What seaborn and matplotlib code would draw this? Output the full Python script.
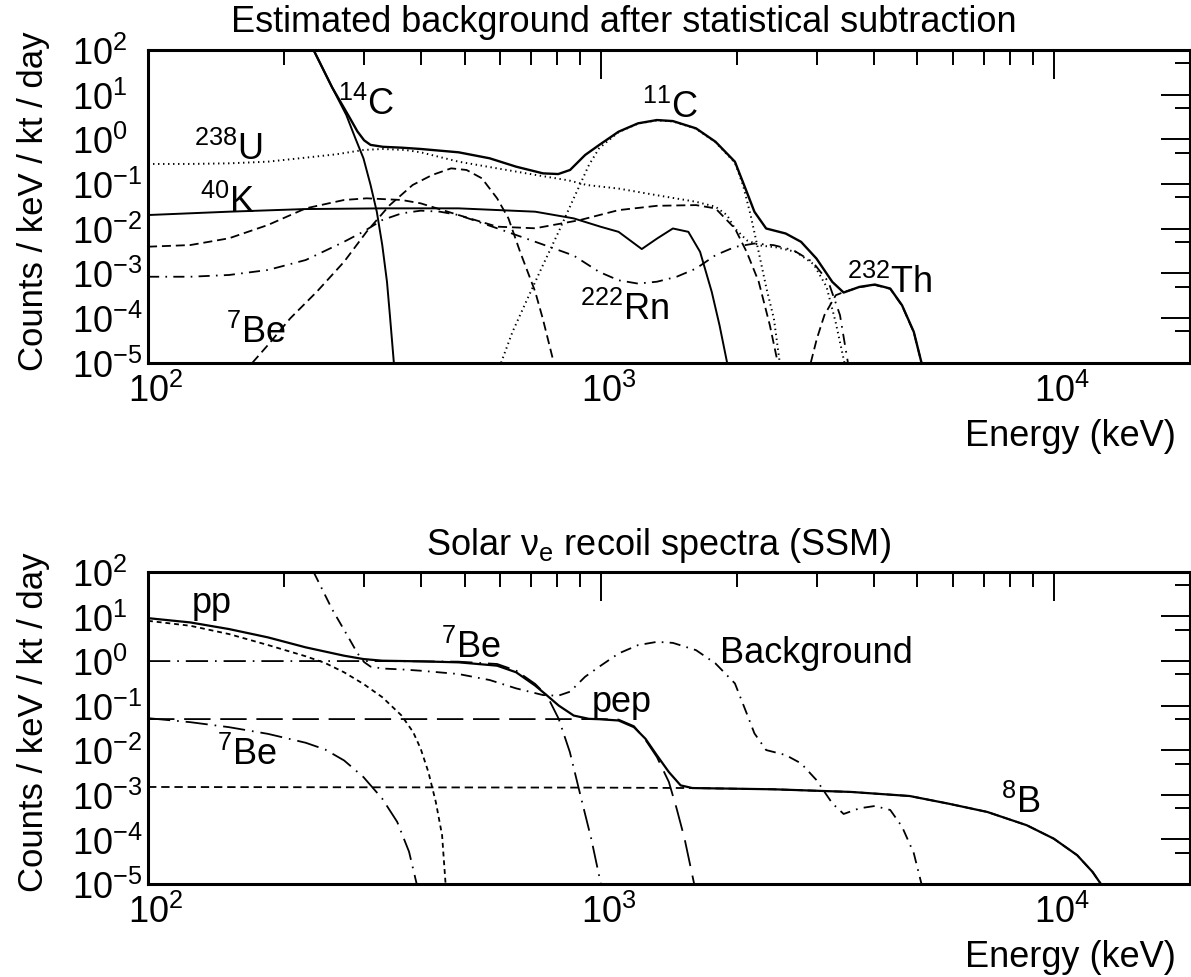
import matplotlib
matplotlib.use("Agg")
import matplotlib.pyplot as plt
import matplotlib.transforms as mtransforms
import seaborn as sns
from matplotlib.ticker import LogLocator, NullFormatter

# ---------------- data (energy in keV, rate in counts / keV / kt / day) ----------------
# Estimated background components
bkg_total_e = [232, 255, 279, 290, 300, 310, 330, 363, 400, 485, 568, 650, 745, 805, 855, 923, 991,
               1094, 1208, 1330, 1442, 1622, 1791, 1977, 2099, 2183, 2317, 2559, 2767, 2992, 3243,
               3436, 3724, 4027, 4355, 4624, 4909, 5105]
bkg_total_v = [100, 14.5, 3.0, 1.5, 0.95, 0.75, 0.68, 0.65, 0.608, 0.512, 0.376, 0.244, 0.173, 0.167,
               0.206, 0.446, 0.745, 1.48, 2.28, 2.7, 2.56, 1.76, 0.883, 0.315, 0.067, 0.0239, 0.0101,
               0.0078, 0.00508, 0.00215, 6.46e-4, 3.72e-4, 4.98e-4, 5.62e-4, 4.57e-4, 1.93e-4, 4.9e-5, 1.0e-5]

c14_e = [232, 255, 274, 287, 299, 310, 320, 329, 337, 342, 349]
c14_v = [100, 14.5, 3.51, 1.05, 0.376, 0.0951, 0.024, 0.00431, 6.5e-4, 1.17e-4, 1.0e-5]

u238_e = [100, 124, 151, 184, 223, 260, 299, 329, 370, 400, 485, 590, 716, 850, 930, 1094, 1330,
          1622, 1791, 1900, 1977, 2100, 2250, 2450, 2700, 2950, 3150, 3300, 3450]
u238_v = [0.281, 0.281, 0.29, 0.316, 0.389, 0.461, 0.577, 0.608, 0.577, 0.512, 0.316, 0.224, 0.16,
          0.12, 0.095, 0.079, 0.056, 0.040, 0.031, 0.02, 0.0101, 0.0055, 0.0042, 0.0038, 0.0030,
          0.0016, 5e-4, 8e-5, 1e-5]

k40_e = [100, 151, 223, 329, 485, 716, 871, 1000, 1094, 1231, 1330, 1442, 1560, 1656, 1757, 1828, 1900]
k40_v = [0.0202, 0.024, 0.0275, 0.0285, 0.0285, 0.024, 0.017, 0.011, 0.0085, 0.0035, 0.006, 0.0101,
         0.0085, 0.00303, 3.86e-4, 6.9e-5, 1e-5]

th232_e = [100, 124, 151, 184, 223, 271, 304, 363, 400, 485, 590, 716, 897, 1094, 1330, 1622, 1791,
           1977, 2099, 2231, 2361, 2458]
th232_v = [3.95e-3, 4.3e-3, 6.1e-3, 0.0121, 0.0285, 0.0439, 0.0478, 0.0439, 0.0369, 0.0202, 0.0111,
           0.0102, 0.0155, 0.026, 0.0325, 0.0337, 0.0284, 0.0101, 3.0e-3, 6.5e-4, 6.9e-5, 1.0e-5]

tl208_e = [2907, 3000, 3116, 3301, 3436, 3724, 4027, 4355, 4624, 4909, 5105]
tl208_v = [1e-5, 3.5e-5, 1.16e-4, 3.24e-4, 3.8e-4, 4.9e-4, 5.5e-4, 4.5e-4, 1.9e-4, 4.8e-5, 1e-5]

be7_bkg_e = [170, 184, 206, 236, 271, 304, 342, 384, 424, 467, 505, 546, 590, 625, 663, 716, 744, 787]
be7_bkg_v = [1e-5, 2.49e-5, 9.8e-5, 3.9e-4, 1.82e-3, 8.6e-3, 0.0339, 0.095, 0.159, 0.224, 0.206,
             0.134, 0.0478, 0.017, 3.05e-3, 3.9e-4, 9.8e-5, 1e-5]

c11_e = [602, 638, 689, 745, 807, 871, 941, 991, 1094, 1208, 1330, 1442, 1622, 1791, 1977, 2060,
         2141, 2231, 2321, 2410, 2483]
c11_v = [1e-5, 4.9e-5, 2.75e-4, 1.54e-3, 8.6e-3, 0.0478, 0.266, 0.63, 1.45, 2.25, 2.66, 2.52, 1.73,
         0.86, 0.30, 0.0944, 0.0201, 3.0e-3, 4.57e-4, 9.7e-5, 1e-5]

rn222_e = [100, 124, 151, 184, 223, 271, 299, 329, 363, 400, 441, 485, 590, 716, 871, 991, 1094, 1208,
           1330, 1470, 1622, 1791, 1977, 2183, 2410, 2660, 2934, 3179, 3373, 3512]
rn222_v = [8.4e-4, 8.4e-4, 9.2e-4, 1.19e-3, 1.99e-3, 5.1e-3, 8.6e-3, 0.0156, 0.022, 0.0253, 0.024,
           0.0202, 0.0102, 5.1e-3, 2.5e-3, 1.08e-3, 7.0e-4, 5.9e-4, 6.5e-4, 8.4e-4, 1.28e-3, 2.55e-3,
           3.9e-3, 4.66e-3, 4.27e-3, 3.3e-3, 1.81e-3, 6.5e-4, 1.16e-4, 1e-5]

# Solar neutrino electron-recoil spectra
solar_total_e = [100, 124, 151, 184, 223, 271, 299, 329, 400, 485, 590, 650, 716, 761, 807, 871, 941,
                 991, 1094, 1183, 1255, 1330, 1413, 1500, 1592, 2410, 3573, 4808, 5873, 7132, 8717,
                 10000, 11264, 12180, 12710]
solar_total_v = [9.18, 7.36, 5.22, 3.40, 2.03, 1.32, 1.11, 1.02, 0.986, 0.937, 0.789, 0.56, 0.282,
                 0.168, 0.1005, 0.060, 0.0506, 0.0497, 0.0465, 0.033, 0.018, 7.66e-3, 3.24e-3, 1.63e-3,
                 1.42e-3, 1.33e-3, 1.16e-3, 9.4e-4, 6.3e-4, 4.13e-4, 2.08e-4, 1.04e-4, 4.43e-5,
                 1.87e-5, 1e-5]

pp_e = [100, 124, 151, 184, 223, 246, 271, 299, 329, 363, 385, 400, 416, 432, 446, 454]
pp_v = [8.0, 6.19, 4.03, 2.29, 1.28, 0.906, 0.56, 0.307, 0.155, 0.060, 0.0255, 0.0108, 3.24e-3,
        6.9e-4, 1.24e-4, 1e-5]

be7_862_e = [100, 329, 485, 590, 650, 716, 761, 807, 854, 905, 952, 1000]
be7_862_v = [1.0, 1.0, 0.97, 0.86, 0.61, 0.307, 0.165, 0.0506, 9.1e-3, 8.2e-4, 1.04e-4, 1e-5]

be7_384_e = [100, 124, 151, 184, 223, 246, 271, 299, 329, 355, 377, 392]
be7_384_v = [0.0524, 0.0426, 0.0329, 0.0233, 0.0147, 0.0104, 5.9e-3, 2.5e-3, 8.2e-4, 2.47e-4,
             5.3e-5, 1e-5]

pep_e = [100, 1000, 1094, 1183, 1255, 1330, 1413, 1470, 1530, 1607]
pep_v = [0.05, 0.05, 0.0487, 0.0347, 0.017, 7e-3, 1.94e-3, 4.9e-4, 1.05e-4, 1e-5]

b8_e = [100, 1000, 1592, 2410, 3573, 4808, 5873, 7132, 8717, 10000, 11264, 12180, 12710]
b8_v = [1.5e-3, 1.45e-3, 1.42e-3, 1.33e-3, 1.16e-3, 9.4e-4, 6.3e-4, 4.13e-4, 2.08e-4, 1.04e-4,
        4.43e-5, 1.87e-5, 1e-5]

y_ticks = [1e-5, 1e-4, 1e-3, 1e-2, 1e-1, 1e0, 1e1, 1e2]
y_tick_labels = ["10$^{-5}$", "10$^{-4}$", "10$^{-3}$", "10$^{-2}$", "10$^{-1}$",
                 "10$^{0}$", "10$^{1}$", "10$^{2}$"]
x_ticks = [1e2, 1e3, 1e4]
x_tick_labels = ["10$^{2}$", "10$^{3}$", "10$^{4}$"]

# ---------------- style ----------------
sns.set_theme(style="white")
plt.rcParams["font.family"] = ["Liberation Sans", "DejaVu Sans"]
plt.rcParams["mathtext.fontset"] = "custom"
plt.rcParams["mathtext.rm"] = "Liberation Sans"
plt.rcParams["mathtext.it"] = "Liberation Sans:italic"
plt.rcParams["mathtext.bf"] = "Liberation Sans:bold"
plt.rcParams["axes.unicode_minus"] = False
plt.rcParams["lines.scale_dashes"] = False
plt.rcParams["text.color"] = "black"

TICK_FS = 26
LABEL_FS = 26
TITLE_FS = 26
SOLID = "-"
DOTTED = (0, (1.0, 2.6))
DASHED = (0, (6.5, 3.5))
DASHDOT = (0, (8, 4.5, 1.2, 4.5))
SHORTDASH = (0, (3.5, 2.8))
LONGDASH = (0, (19, 7))
LONGDASHDOT = (0, (16, 5, 1.2, 5))
MEDDASH = (0, (6, 3.5))

fig = plt.figure(figsize=(11.91, 9.78), dpi=100)
ax_top = fig.add_axes([0.1243, 0.6281, 0.8749, 0.3198])
ax_bot = fig.add_axes([0.1243, 0.0951, 0.8749, 0.3191])


def curve(ax, e, v, ls, lw=1.3):
    sns.lineplot(x=e, y=v, ax=ax, color="black", sort=False, estimator=None, lw=lw)
    ax.lines[-1].set_linestyle(ls)


def style_axes(ax):
    ax.set_xscale("log")
    ax.set_yscale("log")
    ax.set_xlim(100, 20000)
    ax.set_ylim(1e-5, 1e2)
    ax.set_xticks(x_ticks)
    ax.set_xticklabels(x_tick_labels, fontsize=TICK_FS)
    ax.xaxis.set_minor_locator(LogLocator(base=10, subs=(2, 3, 4, 5, 6, 7, 8, 9), numticks=20))
    ax.xaxis.set_minor_formatter(NullFormatter())
    ax.set_yticks(y_ticks)
    ax.set_yticklabels(y_tick_labels, fontsize=TICK_FS, ha="left")
    ax.yaxis.set_minor_locator(LogLocator(base=10, subs=(5,), numticks=20))
    ax.yaxis.set_minor_formatter(NullFormatter())
    ax.tick_params(which="major", direction="in", length=21, width=1.4, top=True, right=True,
                   color="black", labelcolor="black")
    ax.tick_params(which="minor", direction="in", length=10.5, width=1.4, top=True, right=True,
                   color="black")
    ax.tick_params(axis="y", which="major", pad=55)
    ax.tick_params(axis="x", which="major", pad=7)
    shift = mtransforms.ScaledTranslation(8 / 100, 0, fig.dpi_scale_trans)
    for lab in ax.get_xticklabels():
        lab.set_transform(lab.get_transform() + shift)
    for s in ax.spines.values():
        s.set_linewidth(2.2)
        s.set_color("black")
    ax.set_ylabel("Counts / keV / kt / day", fontsize=25, color="black")
    ax.yaxis.set_label_coords(-0.094, 0.52)
    ax.set_xlabel("")
    ax.text(0.9866, -0.262, "Energy (keV)", transform=ax.transAxes, ha="right", va="baseline",
            fontsize=LABEL_FS)
    ax.grid(False)


# ---------------- top panel: background ----------------
for ax in (ax_top, ax_bot):
    ax.set_xscale("log")
    ax.set_yscale("log")

curve(ax_top, u238_e, u238_v, DOTTED, 1.4)
curve(ax_top, c11_e, c11_v, DOTTED, 1.4)
curve(ax_top, th232_e, th232_v, DASHED)
curve(ax_top, tl208_e, tl208_v, DASHED)
curve(ax_top, be7_bkg_e, be7_bkg_v, DASHED)
curve(ax_top, rn222_e, rn222_v, DASHDOT)
curve(ax_top, k40_e, k40_v, SOLID, 1.4)
curve(ax_top, c14_e, c14_v, SOLID, 1.4)
curve(ax_top, bkg_total_e, bkg_total_v, SOLID, 1.7)
style_axes(ax_top)

ax_top.text(0.457, 1.061, "Estimated background after statistical subtraction",
            transform=ax_top.transAxes, ha="center", va="baseline", fontsize=TITLE_FS)
top_labels = [
    (0.182, 0.795, "$^{14}$C"),
    (0.044, 0.651, "$^{238}$U"),
    (0.050, 0.482, "$^{40}$K"),
    (0.075, 0.066, "$^{7}$Be"),
    (0.474, 0.786, "$^{11}$C"),
    (0.415, 0.140, "$^{222}$Rn"),
    (0.671, 0.226, "$^{232}$Th"),
]
for x, y, s in top_labels:
    ax_top.text(x, y, s, transform=ax_top.transAxes, ha="left", va="baseline", fontsize=LABEL_FS)

# ---------------- bottom panel: solar neutrino recoil spectra ----------------
curve(ax_bot, bkg_total_e, bkg_total_v, DASHDOT, 1.3)
curve(ax_bot, pp_e, pp_v, SHORTDASH)
curve(ax_bot, be7_862_e, be7_862_v, LONGDASHDOT)
curve(ax_bot, be7_384_e, be7_384_v, LONGDASHDOT)
curve(ax_bot, pep_e, pep_v, LONGDASH)
curve(ax_bot, b8_e, b8_v, MEDDASH)
curve(ax_bot, solar_total_e, solar_total_v, SOLID, 1.6)
style_axes(ax_bot)

ax_bot.text(0.49, 1.058, "Solar \u03bd$_{\\mathrm{e}}$ recoil spectra (SSM)",
            transform=ax_bot.transAxes, ha="center", va="baseline", fontsize=TITLE_FS)
bot_labels = [
    (0.042, 0.872, "pp"),
    (0.281, 0.728, "$^{7}$Be"),
    (0.066, 0.385, "$^{7}$Be"),
    (0.426, 0.554, "pep"),
    (0.549, 0.712, "Background"),
    (0.819, 0.231, "$^{8}$B"),
]
for x, y, s in bot_labels:
    ax_bot.text(x, y, s, transform=ax_bot.transAxes, ha="left", va="baseline", fontsize=LABEL_FS)

fig.savefig("out.png", dpi=100, facecolor="white")
